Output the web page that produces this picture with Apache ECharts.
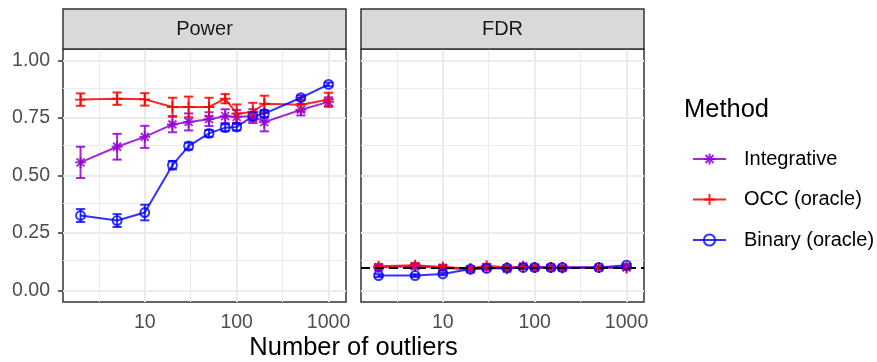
<!DOCTYPE html>
<html><head><meta charset="utf-8">
<script src="https://cdn.jsdelivr.net/npm/echarts@6/dist/echarts.min.js"></script>
<style>html,body{margin:0;padding:0;background:#fff}#c{width:877px;height:362px}</style>
</head><body><div id="c"></div>
<script>
// ---- data ----
const nOutliers = [2, 5, 10, 20, 30, 50, 75, 100, 150, 200, 500, 1000];
const xTickValues = [10, 100, 1000];
const yTickValues = [0, 0.25, 0.5, 0.75, 1];
const panels = ['Power', 'FDR'];
const methods = ['Integrative', 'OCC (oracle)', 'Binary (oracle)'];
const fdrTarget = 0.1;

const powerIntegrative = [0.557, 0.625, 0.668, 0.722, 0.733, 0.745, 0.758, 0.755, 0.758, 0.732, 0.786, 0.820];
const powerIntegrativeErr = [0.068, 0.056, 0.048, 0.034, 0.037, 0.030, 0.030, 0.030, 0.030, 0.040, 0.025, 0.020];
const powerOCC = [0.830, 0.834, 0.831, 0.798, 0.798, 0.798, 0.834, 0.769, 0.776, 0.812, 0.808, 0.830];
const powerOCCErr = [0.027, 0.027, 0.027, 0.040, 0.045, 0.040, 0.020, 0.040, 0.040, 0.035, 0.030, 0.030];
const powerBinary = [0.326, 0.304, 0.339, 0.545, 0.628, 0.683, 0.708, 0.711, 0.758, 0.769, 0.838, 0.896];
const powerBinaryErr = [0.028, 0.028, 0.034, 0.018, 0.015, 0.015, 0.015, 0.015, 0.015, 0.015, 0.010, 0.008];

const fdrIntegrative = [0.100, 0.105, 0.098, 0.092, 0.100, 0.095, 0.105, 0.100, 0.100, 0.098, 0.100, 0.100];
const fdrIntegrativeErr = [0.010, 0.010, 0.010, 0.008, 0.008, 0.008, 0.008, 0.008, 0.008, 0.008, 0.006, 0.006];
const fdrOCC = [0.105, 0.110, 0.102, 0.096, 0.108, 0.100, 0.102, 0.100, 0.100, 0.100, 0.100, 0.098];
const fdrOCCErr = [0.010, 0.010, 0.010, 0.008, 0.008, 0.008, 0.008, 0.008, 0.008, 0.008, 0.006, 0.006];
const fdrBinary = [0.065, 0.065, 0.072, 0.093, 0.096, 0.098, 0.100, 0.100, 0.100, 0.100, 0.100, 0.110];
const fdrBinaryErr = [0.006, 0.006, 0.006, 0.006, 0.006, 0.006, 0.006, 0.006, 0.006, 0.006, 0.005, 0.005];

// ---- styling ----
const FONT = 'Liberation Sans, Arial, Helvetica, sans-serif';
const colors = ['rgba(148,0,211,0.85)', 'rgba(255,0,0,0.85)', 'rgba(0,0,255,0.8)'];
const symbols = [
  'path://M0,-1L0,1M-1,0L1,0M-0.72,-0.72L0.72,0.72M-0.72,0.72L0.72,-0.72',
  'path://M0,-1L0,1M-1,0L1,0',
  'circle'
];
const symbolSizes = [11, 11, 9];
const grids = [
  { left: 63, top: 49, width: 283, height: 253 },
  { left: 361, top: 49, width: 283, height: 253 }
];
const xMin = 0.11, xMax = 3.19, yMin = -0.05, yMax = 1.05;
const capHalf = 0.05; // half error-bar width in log10 units

const values = [[powerIntegrative, powerOCC, powerBinary], [fdrIntegrative, fdrOCC, fdrBinary]];
const errs = [[powerIntegrativeErr, powerOCCErr, powerBinaryErr], [fdrIntegrativeErr, fdrOCCErr, fdrBinaryErr]];

const lx = n => Math.log10(n);

const xAxes = grids.map((g, i) => ({
  type: 'value', gridIndex: i, min: xMin, max: xMax,
  axisLine: { show: false },
  splitLine: { show: false },
  axisTick: { show: true, customValues: xTickValues.map(lx), length: 5, lineStyle: { color: '#333333', width: 1.5 } },
  axisLabel: { show: true, customValues: xTickValues.map(lx), formatter: v => String(Math.round(Math.pow(10, v))),
    color: '#4D4D4D', fontFamily: FONT, fontSize: 19.5, margin: 11, lineHeight: 20 }
}));
const yAxes = grids.map((g, i) => ({
  type: 'value', gridIndex: i, min: yMin, max: yMax,
  axisLine: { show: false },
  splitLine: { show: false },
  axisTick: { show: i === 0, customValues: yTickValues, length: 5, lineStyle: { color: '#333333', width: 1.5 } },
  axisLabel: { show: i === 0, customValues: yTickValues, formatter: v => v.toFixed(2),
    color: '#4D4D4D', fontFamily: FONT, fontSize: 19.5, margin: 13 }
}));

const series = [];
// gridlines
const majorX = xTickValues.map(lx);
const minorX = [0.5, 1.5, 2.5];
const minorY = [0.125, 0.375, 0.625, 0.875];
grids.forEach((g, p) => {
  const md = [];
  minorX.forEach(v => md.push({ xAxis: v, lineStyle: { width: 1.1 } }));
  minorY.forEach(v => md.push({ yAxis: v, lineStyle: { width: 1.1 } }));
  majorX.forEach(v => md.push({ xAxis: v, lineStyle: { width: 2 } }));
  yTickValues.forEach(v => md.push({ yAxis: v, lineStyle: { width: 2 } }));
  series.push({
    type: 'line', xAxisIndex: p, yAxisIndex: p, data: [], z: 1, silent: true,
    markLine: { silent: true, z: 1, symbol: 'none', label: { show: false },
      lineStyle: { color: '#EBEBEB', type: 'solid' }, data: md, animation: false }
  });
});

// error bars
grids.forEach((g, p) => {
  methods.forEach((m, k) => {
    const data = nOutliers.map((n, i) => [lx(n), values[p][k][i] - errs[p][k][i], values[p][k][i] + errs[p][k][i]]);
    series.push({
      type: 'custom', name: m + ' err', xAxisIndex: p, yAxisIndex: p, z: 2, silent: true,
      data, encode: { x: 0, y: [1, 2] },
      renderItem: (params, api) => {
        const x = api.value(0), lo = api.value(1), hi = api.value(2);
        const a = api.coord([x, lo]), b = api.coord([x, hi]);
        const tl = api.coord([x - capHalf, hi]), tr = api.coord([x + capHalf, hi]);
        const bl = api.coord([x - capHalf, lo]), br = api.coord([x + capHalf, lo]);
        const st = { stroke: colors[k], lineWidth: 2, fill: null };
        return { type: 'group', children: [
          { type: 'line', shape: { x1: a[0], y1: a[1], x2: b[0], y2: b[1] }, style: st },
          { type: 'line', shape: { x1: tl[0], y1: tl[1], x2: tr[0], y2: tr[1] }, style: st },
          { type: 'line', shape: { x1: bl[0], y1: bl[1], x2: br[0], y2: br[1] }, style: st }
        ] };
      }
    });
  });
});

// lines + points
grids.forEach((g, p) => {
  methods.forEach((m, k) => {
    series.push({
      type: 'line', name: m, xAxisIndex: p, yAxisIndex: p, z: 3,
      data: nOutliers.map((n, i) => [lx(n), values[p][k][i]]),
      symbol: symbols[k], symbolSize: symbolSizes[k], showAllSymbol: true,
      lineStyle: { color: colors[k], width: 2 },
      itemStyle: { color: 'rgba(0,0,0,0)', borderColor: colors[k], borderWidth: 1.9 },
      emphasis: { disabled: true }
    });
  });
});

// FDR target line
series.push({
  type: 'line', xAxisIndex: 1, yAxisIndex: 1, data: [], z: 5, silent: true,
  markLine: { silent: true, z: 6, symbol: 'none', label: { show: false }, animation: false,
    lineStyle: { color: '#000000', type: [9, 5], width: 2 },
    data: [{ yAxis: fdrTarget }] }
});

const graphic = [];
grids.forEach((g, p) => {
  graphic.push({ type: 'rect', shape: { x: g.left, y: 9, width: g.width, height: 40 },
    style: { fill: '#D9D9D9', stroke: '#333333', lineWidth: 1.5 }, z: 10 });
  graphic.push({ type: 'text', x: g.left + g.width / 2, y: 29,
    style: { text: panels[p], fill: '#1A1A1A', font: '20px ' + FONT, align: 'center', verticalAlign: 'middle' }, z: 11 });
});
graphic.push({ type: 'text', x: 353.5, y: 348,
  style: { text: 'Number of outliers', fill: '#000000', font: '25.5px ' + FONT, align: 'center', verticalAlign: 'middle' } });
graphic.push({ type: 'text', x: 684, y: 110,
  style: { text: 'Method', fill: '#000000', font: '25.5px ' + FONT, align: 'left', verticalAlign: 'middle' } });

const chart = echarts.init(document.getElementById('c'), null, { renderer: 'canvas' });
chart.setOption({
  animation: false,
  backgroundColor: '#ffffff',
  grid: grids.map(g => ({ ...g, show: true, backgroundColor: '#ffffff', borderColor: '#333333', borderWidth: 1.5, containLabel: false })),
  xAxis: xAxes,
  yAxis: yAxes,
  legend: {
    data: methods, orient: 'vertical', left: 687, top: 144,
    itemWidth: 33, itemHeight: 14, itemGap: 20.5, selectedMode: false,
    textStyle: { fontFamily: FONT, fontSize: 20, color: '#000000', padding: [0, 0, 0, 13], lineHeight: 20 }
  },
  graphic,
  series
});
</script></body></html>
